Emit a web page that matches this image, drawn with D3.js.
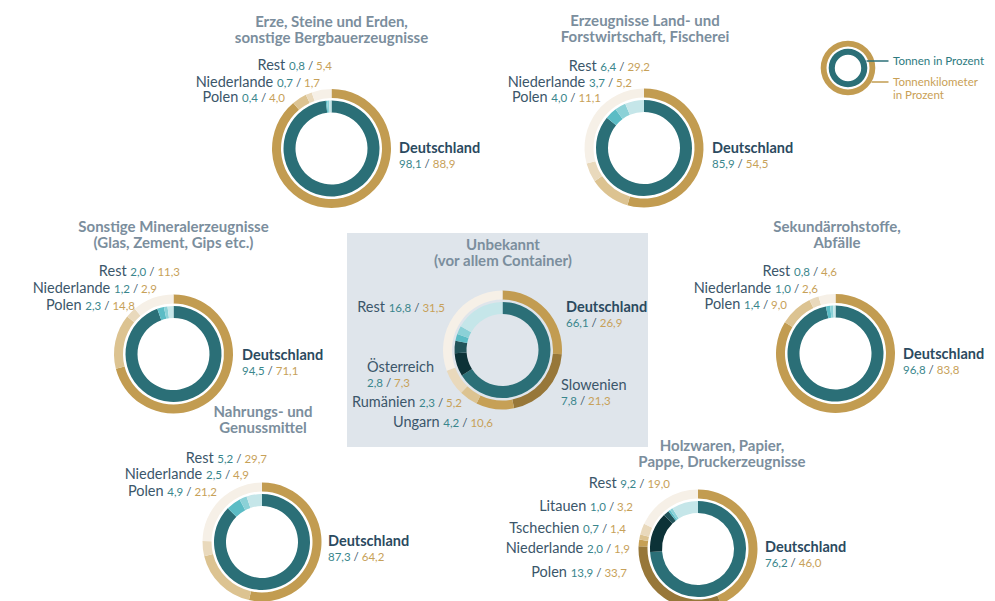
<!DOCTYPE html>
<html lang="de">
<head>
<meta charset="UTF-8">
<title>Herkunft der Transporte nach Gütergruppen</title>
<script src="https://cdn.jsdelivr.net/npm/d3@7"></script>
<style>
  body { margin: 0; background: #fff; font-family: Lato, 'Noto Sans', sans-serif; }
  .titel { font-weight: 700; font-size: 15px; fill: #7b8e9d; }
  .land { font-size: 14.5px; fill: #3b566a; }
  .land.de { font-weight: 700; fill: #2b4a5f; }
  .wert { font-size: 11.5px; }
  .t { fill: #3a868c; }
  .tkm { fill: #c7a159; }
  .sl { fill: #3b566a; }
  .legende { font-size: 11.5px; }
</style>
</head>
<body>
<script>
// Anteile in Prozent: Tonnen (innerer Ring) / Tonnenkilometer (aeusserer Ring)
const erzeLaender = ["Deutschland", "Polen", "Niederlande", "Rest"];
const erzeTonnen = [98.1, 0.4, 0.7, 0.8];
const erzeTkm = [88.9, 4.0, 1.7, 5.4];

const landLaender = ["Deutschland", "Polen", "Niederlande", "Rest"];
const landTonnen = [85.9, 4.0, 3.7, 6.4];
const landTkm = [54.5, 11.1, 5.2, 29.2];

const mineralLaender = ["Deutschland", "Polen", "Niederlande", "Rest"];
const mineralTonnen = [94.5, 2.3, 1.2, 2.0];
const mineralTkm = [71.1, 14.8, 2.9, 11.3];

const sekundaerLaender = ["Deutschland", "Polen", "Niederlande", "Rest"];
const sekundaerTonnen = [96.8, 1.4, 1.0, 0.8];
const sekundaerTkm = [83.8, 9.0, 2.6, 4.6];

const nahrungLaender = ["Deutschland", "Polen", "Niederlande", "Rest"];
const nahrungTonnen = [87.3, 4.9, 2.5, 5.2];
const nahrungTkm = [64.2, 21.2, 4.9, 29.7];

const holzLaender = ["Deutschland", "Polen", "Niederlande", "Tschechien", "Litauen", "Rest"];
const holzTonnen = [76.2, 13.9, 2.0, 0.7, 1.0, 9.2];
const holzTkm = [46.0, 33.7, 1.9, 1.4, 3.2, 19.0];

const unbekanntLaender = ["Deutschland", "Slowenien", "Ungarn", "Rumänien", "Österreich", "Rest"];
const unbekanntTonnen = [66.1, 7.8, 4.2, 2.3, 2.8, 16.8];
const unbekanntTkm = [26.9, 21.3, 10.6, 5.2, 7.3, 31.5];

// Farben je Rang (Deutschland, dunkel 1, dunkel 2, mittel, hell, Rest)
const innenFarben = ["#2b6f77", "#0c3237", "#22545a", "#5bbcc5", "#8bd1d7", "#c5e6e9"];
const aussenFarben = ["#c29c51", "#977739", "#c6a056", "#dcc391", "#e9d9bc", "#f6f0e7"];

// Lage der Ringe und Beschriftungen (relativ zum Mittelpunkt)
const diagramme = [
  { titel: ["Erze, Steine und Erden,", "sonstige Bergbauerzeugnisse"], laender: erzeLaender, tonnen: erzeTonnen, tkm: erzeTkm,
    cx: 331.5, cy: 148.5, ti: [0, -121.5], de: [67.5, 4.5],
    lab: { Rest: [0.5, -78.5], Niederlande: [-11.5, -61.5], Polen: [-46.5, -46.5] } },
  { titel: ["Erzeugnisse Land- und", "Forstwirtschaft, Fischerei"], laender: landLaender, tonnen: landTonnen, tkm: landTkm,
    cx: 644, cy: 148, ti: [1, -122], de: [68, 5],
    lab: { Rest: [6, -77], Niederlande: [-12, -61], Polen: [-43, -46] } },
  { titel: ["Sonstige Mineralerzeugnisse", "(Glas, Zement, Gips etc.)"], laender: mineralLaender, tonnen: mineralTonnen, tkm: mineralTkm,
    cx: 173.5, cy: 354, ti: [0, -122], de: [68.5, 6],
    lab: { Rest: [6.5, -78], Niederlande: [-16.5, -61], Polen: [-38.5, -44] } },
  { titel: ["Sekundärrohstoffe,", "Abfälle"], laender: sekundaerLaender, tonnen: sekundaerTonnen, tkm: sekundaerTkm,
    cx: 835.5, cy: 353.5, ti: [1.5, -121.5], de: [67.5, 5.5],
    lab: { Rest: [1.5, -77.5], Niederlande: [-17.5, -60.5], Polen: [-48.5, -44.5] } },
  { titel: ["Nahrungs- und", "Genussmittel"], laender: nahrungLaender, tonnen: nahrungTonnen, tkm: nahrungTkm,
    cx: 262, cy: 542, ti: [1, -125], de: [66, 4],
    lab: { Rest: [5, -79], Niederlande: [-13, -63], Polen: [-45, -46] } },
  { titel: ["Holzwaren, Papier,", "Pappe, Druckerzeugnisse"], laender: holzLaender, tonnen: holzTonnen, tkm: holzTkm,
    cx: 698, cy: 549, ti: [24, -98], de: [67, 3],
    lab: { Rest: [-28, -61], Litauen: [-65, -38], Tschechien: [-72, -16], Niederlande: [-68, 4], Polen: [-71, 28] } },
  { titel: ["Unbekannt", "(vor allem Container)"], laender: unbekanntLaender, tonnen: unbekanntTonnen, tkm: unbekanntTkm,
    cx: 502.5, cy: 350, ti: [0.5, -100], de: [63.5, -38],
    lab: { Rest: [-57.5, -38], Rumänien: [-40.5, 57], Ungarn: [-9.5, 77] },
    zweizeilig: { "Österreich": [-135.5, 22], Slowenien: [58.5, 40] } }
];

const width = 995, height = 601;
const svg = d3.select("body").append("svg")
    .attr("width", width)
    .attr("height", height);

// grauer Kasten hinter "Unbekannt"
svg.append("rect")
    .attr("x", 347).attr("y", 233)
    .attr("width", 301).attr("height", 214)
    .attr("fill", "#dfe5eb");

const pie = d3.pie().sort(null).value(d => d);
const bogenInnen = d3.arc().innerRadius(36).outerRadius(48);
const bogenAussen = d3.arc().innerRadius(50.5).outerRadius(59.5);

function zahl(v) { return v.toFixed(1).replace(".", ","); }

function werte(text, i, d) {
  text.append("tspan").attr("class", "wert t").text(zahl(d.tonnen[i]));
  text.append("tspan").attr("class", "wert sl").text(" / ");
  text.append("tspan").attr("class", "wert tkm").text(zahl(d.tkm[i]));
}

diagramme.forEach(function(d) {
  var rang = d.laender.length === 4 ? [0, 3, 4, 5] : [0, 1, 2, 3, 4, 5];
  var g = svg.append("g").attr("transform", `translate(${d.cx},${d.cy})`);

  g.selectAll("path.aussen")
    .data(pie(d.tkm))
    .enter().append("path")
      .attr("class", "aussen")
      .attr("d", bogenAussen)
      .attr("fill", (p, i) => aussenFarben[rang[i]]);

  g.selectAll("path.innen")
    .data(pie(d.tonnen))
    .enter().append("path")
      .attr("class", "innen")
      .attr("d", bogenInnen)
      .attr("fill", (p, i) => innenFarben[rang[i]]);

  // Titel
  d.titel.forEach(function(z, k) {
    g.append("text")
      .attr("class", "titel")
      .attr("x", d.ti[0]).attr("y", d.ti[1] + k * 16)
      .attr("text-anchor", "middle")
      .text(z);
  });

  // Deutschland, zweizeilig rechts
  var de = g.append("text").attr("x", d.de[0]).attr("y", d.de[1]);
  de.append("tspan").attr("class", "land de").text(d.laender[0]);
  var deWerte = g.append("text").attr("x", d.de[0]).attr("y", d.de[1] + 15);
  werte(deWerte, 0, d);

  // einzeilige Beschriftungen, rechtsbuendig
  Object.keys(d.lab).forEach(function(name) {
    var i = d.laender.indexOf(name);
    var pos = d.lab[name];
    var t = g.append("text")
      .attr("x", pos[0]).attr("y", pos[1])
      .attr("text-anchor", "end");
    t.append("tspan").attr("class", "land").text(name + " ");
    werte(t, i, d);
  });

  // zweizeilige Beschriftungen, linksbuendig
  Object.keys(d.zweizeilig || {}).forEach(function(name) {
    var i = d.laender.indexOf(name);
    var pos = d.zweizeilig[name];
    g.append("text")
      .attr("x", pos[0]).attr("y", pos[1])
      .append("tspan").attr("class", "land").text(name);
    var t = g.append("text").attr("x", pos[0]).attr("y", pos[1] + 15);
    werte(t, i, d);
  });
});

// Legende
var leg = svg.append("g").attr("transform", "translate(848,68)");
leg.append("path")
    .attr("d", d3.arc().innerRadius(21.5).outerRadius(27.3)({ startAngle: 0, endAngle: 2 * Math.PI }))
    .attr("fill", aussenFarben[0]);
leg.append("path")
    .attr("d", d3.arc().innerRadius(13.2).outerRadius(19.3)({ startAngle: 0, endAngle: 2 * Math.PI }))
    .attr("fill", innenFarben[0]);
leg.append("line")
    .attr("x1", 18.5).attr("y1", -7).attr("x2", 40.5).attr("y2", -7)
    .attr("stroke", innenFarben[0]).attr("stroke-width", 1.5);
leg.append("line")
    .attr("x1", 23.5).attr("y1", 14).attr("x2", 40.5).attr("y2", 14)
    .attr("stroke", aussenFarben[0]).attr("stroke-width", 1.5);
leg.append("text")
    .attr("class", "legende")
    .attr("x", 45).attr("y", -3.5)
    .attr("fill", "#2d7a80")
    .text("Tonnen in Prozent");
leg.append("text")
    .attr("class", "legende")
    .attr("x", 45).attr("y", 17.5)
    .attr("fill", "#c9a055")
    .text("Tonnenkilometer");
leg.append("text")
    .attr("class", "legende")
    .attr("x", 45).attr("y", 31)
    .attr("fill", "#c9a055")
    .text("in Prozent");
</script>
</body>
</html>
